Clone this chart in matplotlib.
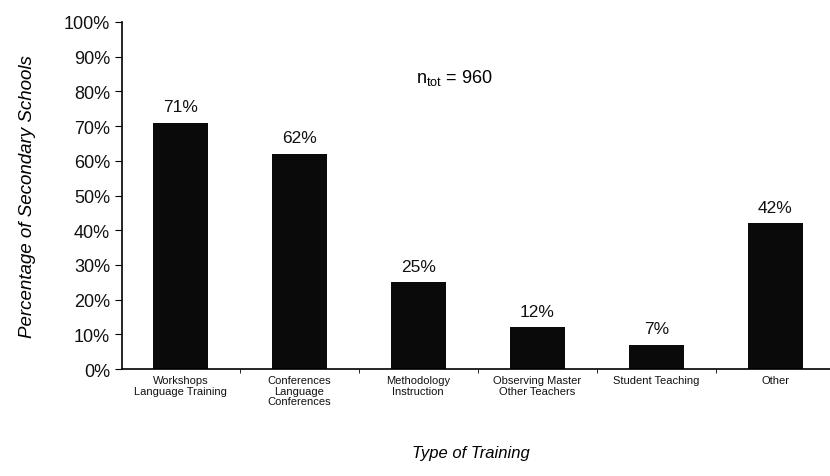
import matplotlib.pyplot as plt
import numpy as np

plt.rcParams["font.family"] = ["Liberation Sans", "DejaVu Sans"]

categories = ["Workshops\nLanguage Training", "Conferences\nLanguage\nConferences",
              "Methodology\nInstruction", "Observing Master\nOther Teachers",
              "Student Teaching", "Other"]
percentages = [71, 62, 25, 12, 7, 42]
y_ticks = [0, 10, 20, 30, 40, 50, 60, 70, 80, 90, 100]

fig = plt.figure(figsize=(8.3, 4.77), dpi=100)
ax = fig.add_axes([0.147, 0.224, 0.853, 0.728])

x = np.arange(len(categories))
ax.bar(x, percentages, width=0.46, color="#0a0a0a")

# value labels above each bar
for xi, p in zip(x, percentages):
    ax.text(xi, p + 2.5, f"{p}%", ha="center", va="bottom", fontsize=12.5, color="#111111")

ax.set_xlim(-0.49, 5.46)
ax.set_ylim(0, 100)
ax.set_yticks(y_ticks)
ax.set_yticklabels([f"{t}%" for t in y_ticks], fontsize=13, color="#111111")
ax.set_xticks(x)
ax.set_xticklabels(categories, fontsize=8, color="#111111", linespacing=1.1)
ax.tick_params(axis="x", length=0, pad=4)
ax.set_xticks(x[:-1] + 0.5, minor=True)
ax.tick_params(axis="x", which="minor", length=3, direction="out")
ax.tick_params(axis="y", length=5, direction="out")

for side in ["top", "right"]:
    ax.spines[side].set_visible(False)
ax.spines["left"].set_linewidth(1.2)
ax.spines["bottom"].set_linewidth(1.2)

ax.set_ylabel("Percentage of Secondary Schools", fontsize=13.5, style="italic", labelpad=20)
fig.text(0.567, 0.04, "Type of Training", fontsize=12, style="italic", ha="center")
ax.text(2.3, 84, r"$\mathregular{n_{tot}}$ = 960", fontsize=13, ha="center", va="center")

fig.savefig("out.png", dpi=100, facecolor="white")
